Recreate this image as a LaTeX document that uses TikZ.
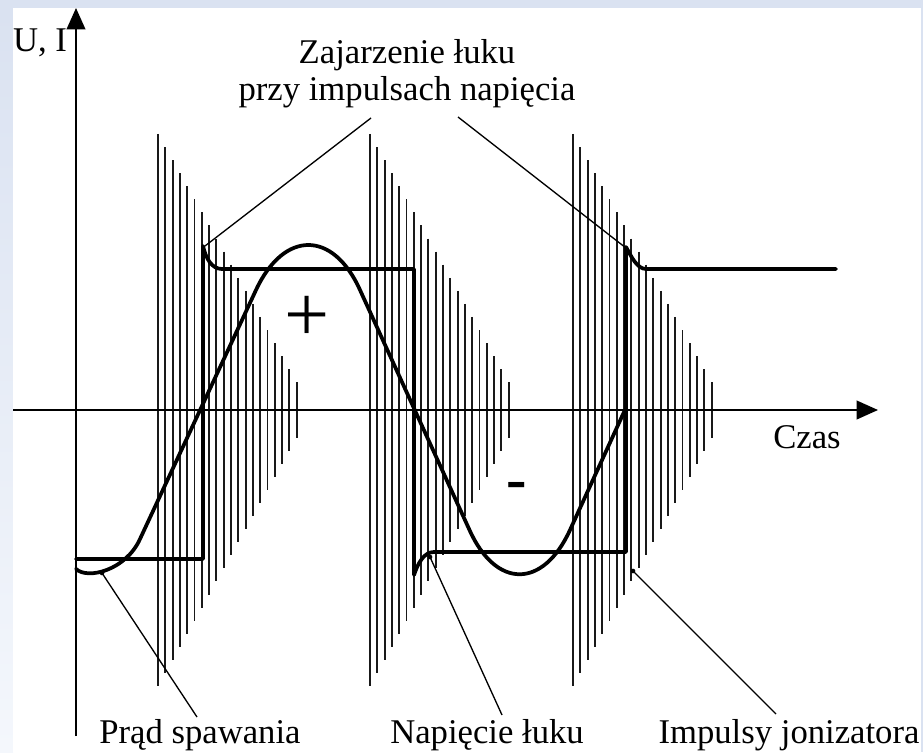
\documentclass[tikz,border=0pt]{standalone}
\usepackage{fontspec}
\setmainfont{Liberation Serif}
\usetikzlibrary{arrows.meta}
\definecolor{bgblue}{HTML}{DAE2F1}
\definecolor{bgpale}{HTML}{F4F7FC}
\begin{document}
\begin{tikzpicture}[x=0.75pt,y=-0.75pt,
  thickcurve/.style={line width=2.8pt, line join=round, line cap=round},
  pulse/.style={line width=1.45pt, black!90},
  axisline/.style={line width=1.3pt, -{Triangle[length=16pt,width=14pt]}},
  leader/.style={line width=1pt},
  lbl/.style={font=\fontsize{26}{30}\selectfont, inner sep=0pt, anchor=base},
  dotmark/.style={circle, fill, inner sep=0pt, minimum size=3.5pt}]
\useasboundingbox (0,0) rectangle (923,752);
% background
\fill[bgblue] (0,0) rectangle (923,752);
\shade[top color=bgblue, bottom color=bgpale] (0,8) rectangle (13,752);
\fill[white] (13,8) rectangle (921,752);
% ionizer pulse bursts
\foreach \xo in {158,370,573}{
  \foreach \i in {0,...,19}{
    \pgfmathsetmacro\xx{\xo+7.3*\i}
    \pgfmathsetmacro\hh{276-13.07*\i}
    \draw[pulse] (\xx,410-\hh) -- (\xx,410+\hh);
  }
}
% axes
\coordinate (xstart) at (13,410);
\coordinate (xend) at (878,410);
\coordinate (ystart) at (76,736);
\coordinate (yend) at (76,8);
\draw[axisline] (xstart) -- (xend);
\draw[axisline] (ystart) -- (yend);
% arc voltage (square wave with spikes)
\draw[thickcurve] (76,559) -- (203,559) -- (203,246)
  .. controls (206,259) and (212,269) .. (222,269) -- (414,269) -- (414,575)
  .. controls (418,563) and (424,552) .. (434,552) -- (626,552) -- (626,247)
  .. controls (631,256) and (637,269) .. (646,269) -- (836,269);
% welding current
\draw[thickcurve] (76,569) .. controls (88,580) and (126,570) .. (140,539)
  -- (256,290) .. controls (284,230) and (333,230) .. (360,290)
  -- (469.5,530) .. controls (496,589) and (543,589) .. (570,530)
  -- (624,412);
% signs
\node[lbl, font=\fontsize{60}{62}\selectfont] (plus) at (307,341) {+};
\node[lbl, font=\fontsize{46}{50}\selectfont\bfseries] (minus) at (517,499) {-};
% labels
\node[lbl] (ui) at (40,52) {U, I};
\node[lbl] (czas) at (807,448) {Czas};
\node[lbl] (zaj1) at (407,64) {Zajarzenie łuku};
\node[lbl] (zaj2) at (407,101) {przy impulsach napięcia};
\node[lbl] (prad) at (200,743) {Prąd spawania};
\node[lbl] (nap) at (487,743) {Napięcie łuku};
\node[lbl] (imp) at (789,743) {Impulsy jonizatora};
% leader lines
\coordinate (zajA) at (371,118);
\coordinate (zajB) at (458,117);
\coordinate (spike1) at (205,246);
\coordinate (spike2) at (626,248);
\coordinate (pradA) at (102,573);
\coordinate (pradB) at (197,717);
\coordinate (napA) at (430,557);
\coordinate (napB) at (502,715);
\coordinate (impA) at (633,571);
\coordinate (impB) at (776,714);
\draw[leader] (zajA) -- (spike1);
\draw[leader] (zajB) -- (spike2);
\draw[leader] (pradA) -- (pradB);
\draw[leader] (napA) -- (napB);
\draw[leader] (impA) -- (impB);
\node[dotmark] at (pradA) {};
\node[dotmark] at (napA) {};
\node[dotmark] at (impA) {};
\end{tikzpicture}
\end{document}
